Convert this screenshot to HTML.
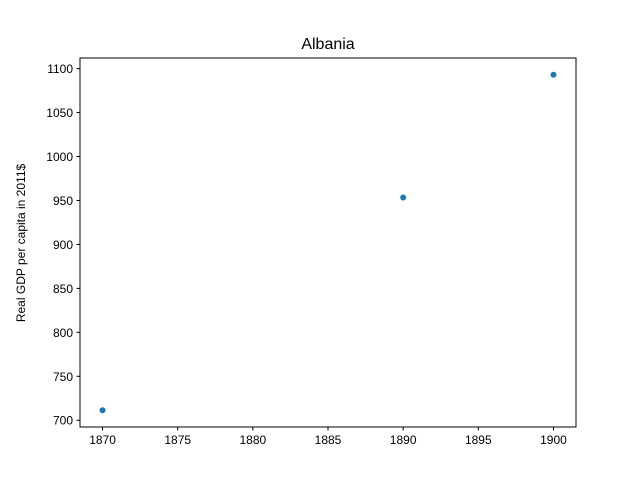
<!DOCTYPE html>
<html><head><meta charset="utf-8"><style>
body{margin:0;background:#fff;}
svg{display:block;font-family:"Liberation Sans","DejaVu Sans",sans-serif;}
</style></head><body>
<svg id="chart" width="640" height="480">
<rect width="640" height="480" fill="#fff"/>
<text x="328" y="49" text-anchor="middle" font-size="16">Albania</text>
<text transform="translate(25,243) rotate(-90)" text-anchor="middle" font-size="12">Real GDP per capita in 2011$</text>
<g id="ticks"></g>
<g id="points"></g>
<rect x="80" y="58" width="496" height="369" fill="none" stroke="#000" stroke-width="1"/>
</svg>
<script>
const years = [1870, 1890, 1900];
const gdp = [711.4, 953.4, 1093];
const xTicks = [1870, 1875, 1880, 1885, 1890, 1895, 1900];
const yTicks = [700, 750, 800, 850, 900, 950, 1000, 1050, 1100];

const L=80,R=576,T=58,B=427;
const xmin0=Math.min(...years), xmax0=Math.max(...years);
const ymin0=Math.min(...gdp), ymax0=Math.max(...gdp);
const xm=(xmax0-xmin0)*0.05, ym=(ymax0-ymin0)*0.05;
const xmin=xmin0-xm, xmax=xmax0+xm, ymin=ymin0-ym, ymax=ymax0+ym;
const sx=v=>L+(v-xmin)/(xmax-xmin)*(R-L);
const sy=v=>B-(v-ymin)/(ymax-ymin)*(B-T);
const NS="http://www.w3.org/2000/svg";
const tg=document.getElementById('ticks'), pg=document.getElementById('points');
function mk(tag,attrs,parent){const e=document.createElementNS(NS,tag);for(const k in attrs)e.setAttribute(k,attrs[k]);parent.appendChild(e);return e;}
xTicks.forEach(v=>{
  const x=sx(v);
  const l=mk('line',{x1:x,x2:x,y1:B,y2:B+3.5,stroke:'#000'},tg);
  
  
  const t=mk('text',{x:x,y:B+17,'text-anchor':'middle','font-size':'12'},tg);
  t.textContent=v;
  
  
});
yTicks.forEach(v=>{
  const y=sy(v);
  if(y<T-0.5||y>B+0.5)return;
  const l=mk('line',{x1:L-3.5,x2:L,y1:y,y2:y,stroke:'#000'},tg);
  
  
  const t=mk('text',{x:L-7,y:y+4.5,'text-anchor':'end','font-size':'12'},tg);
  t.textContent=v;
  
  
});
years.forEach((yr,i)=>{
  const c=mk('circle',{cx:sx(yr),cy:sy(gdp[i]),r:3,fill:'#1f77b4'},pg);
  
  
});
</script>
</body></html>
